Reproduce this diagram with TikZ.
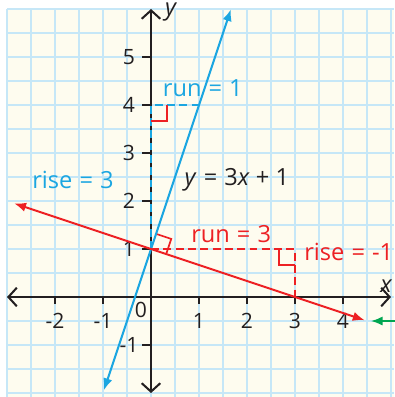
\documentclass[tikz,border=0pt]{standalone}
\usepackage{fontspec}
\setmainfont{Open Sans}
\usetikzlibrary{arrows.meta,calc}
\definecolor{cream}{HTML}{FEFCEF}
\definecolor{gridblue}{HTML}{C6E7F7}
\definecolor{lblue}{HTML}{1BA6E1}
\definecolor{lred}{HTML}{ED2124}
\definecolor{lgreen}{HTML}{00A651}
\definecolor{ink}{HTML}{231F20}
\tikzset{
  gridline/.style={gridblue, line width=1.1pt},
  axisline/.style={ink, line width=1.3pt,
    {Straight Barb[length=5pt,width=11pt,line width=1.2pt]}-{Straight Barb[length=5pt,width=11pt,line width=1.2pt]}},
  tickmark/.style={ink, line width=1.2pt},
  graphline/.style={line width=1.2pt, {Latex[length=7pt,width=5.5pt]}-{Latex[length=7pt,width=5.5pt]}},
  dashline/.style={line width=1.1pt, dash pattern=on 4.7pt off 2.6pt},
  rightmark/.style={lred, line width=1pt},
  ticklabel/.style={ink, inner sep=0pt, font=\fontsize{12.5}{14}\selectfont},
  biglabel/.style={inner sep=0pt, font=\fontsize{14}{16}\selectfont},
}
\newcommand{\eqs}{\hspace{0.3em}=\hspace{0.3em}}
\begin{document}
\begin{tikzpicture}[x=1cm,y=1cm]
\useasboundingbox (-3.146,-2.083) rectangle (5.062,6.1875);
% background and grid
\fill[white] (-3.146,-2.083) rectangle (5.062,6.1875);
\fill[cream] (-3,-2.083) rectangle (5.062,6);
\foreach \i in {-3,-2.5,...,5} \draw[gridline] (\i,-2.083) -- (\i,6);
\foreach \j in {-2,-1.5,...,6} \draw[gridline] (-3,\j) -- (5.062,\j);
% named points
\coordinate (O) at (0,0);
\coordinate (P) at (0,1);
\coordinate (Q) at (0,4);
\coordinate (R) at (1,4);
\coordinate (S) at (3,1);
\coordinate (T) at (3,0);
\coordinate (xl) at (-3,0);
\coordinate (xr) at (5,0);
\coordinate (yb) at (0,-2);
\coordinate (yt) at (0,6);
\coordinate (b1) at (-0.98,-1.94);
\coordinate (b2) at (1.665,5.995);
\coordinate (r1) at (-2.85,1.95);
\coordinate (r2) at (4.45,-0.4833);
\coordinate (g1) at (5.08,-0.5);
\coordinate (g2) at (4.58,-0.5);
% axes
\draw[axisline] (xl) -- (xr);
\draw[axisline] (yb) -- (yt);
\foreach \x in {-2,-1,1,2,3,4} \draw[tickmark] (\x,0) -- (\x,-0.15);
\foreach \y in {-1,1,2,3,4,5} \draw[tickmark] (0,\y) -- (-0.18,\y);
\foreach \x/\t in {-2/-2,-1/-1,1/1,2/2,3/3,4/4}
  \node[ticklabel] (xt\x) at (\x,-0.5) {\t};
\foreach \y/\t in {-1/-1,1/1,2/2,3/3,4/4,5/5}
  \node[ticklabel] (yt\y) at (-0.46,\y) {\t};
\node[ticklabel] (zero) at (-0.21,-0.265) {0};
\node[biglabel, ink] (xlab) at (4.9,0.23) {\textit{x}};
\node[biglabel, ink] (ylab) at (0.42,5.93) {\textit{y}};
% dashed rise/run
\draw[dashline, lblue] (P) -- (Q) -- (R);
\draw[dashline, lred] (P) -- (S) -- (T);
% right-angle marks
\draw[rightmark] ($(Q)+(0,-1/3)$) -| ($(Q)+(1/3,0)$);
\draw[rightmark] ($(S)+(-1/3,0)$) |- ($(S)+(0,-1/3)$);
\draw[rightmark] ($(P)+(0.1054,0.3162)$) -- ($(P)+(0.4216,0.2108)$) -- ($(P)+(0.3162,-0.1054)$);
% graph lines
\draw[graphline, lblue] (b1) -- (b2);
\draw[graphline, lred] (r1) -- (r2);
\draw[lgreen, line width=1.2pt, -{Latex[length=7pt,width=5.5pt]}] (g1) -- (g2);
% labels
\node[biglabel, lblue] (run1) at (1.08,4.36) {run\eqs 1};
\node[biglabel, lblue] (rise3) at (-1.625,2.44) {rise\eqs 3};
\node[biglabel, ink] (eq) at (1.79,2.44) {\textit{y}\eqs 3\textit{x} + 1};
\node[biglabel, lred] (run3) at (1.67,1.31) {run\eqs 3};
\node[biglabel, lred] (risem1) at (4.12,0.94) {rise\eqs -1};
\end{tikzpicture}
\end{document}
